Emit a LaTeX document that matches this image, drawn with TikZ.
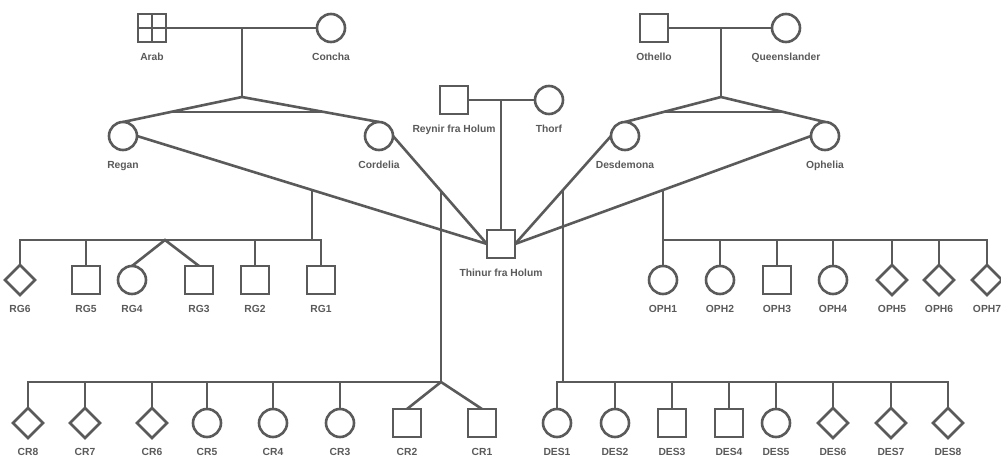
\documentclass[tikz,border=0pt]{standalone}
\usepackage{fontspec}
\setmainfont{Liberation Sans}
\usetikzlibrary{shapes.geometric,calc,backgrounds}
\definecolor{ln}{HTML}{5A5A5A}
\definecolor{tx}{HTML}{5A5A5A}
\tikzset{
  base/.style={draw=ln, line width=2.6pt, inner sep=0pt, outer sep=0pt, fill=white},
  male/.style={base, rectangle, minimum size=28pt},
  female/.style={base, circle, minimum size=28pt},
  unk/.style={base, diamond, aspect=1, minimum size=30pt},
  lbl/.style={font=\bfseries\fontsize{10.3}{12}\selectfont, text=tx, inner sep=0pt, text height=7.4pt, text depth=0pt, anchor=center},
  conn/.style={draw=ln, line width=2.6pt, line cap=butt, line join=miter},
}
\newcommand{\pp}[5]{%
  \node[#2] (#1) at (#3,#4) {};
  \node[lbl] (#1-t) at (#3,#4+29) {#5};}
\begin{document}
\begin{tikzpicture}[x=1pt,y=-1pt]
\useasboundingbox (0,0) rectangle (1001,457);
\coordinate (apexA) at (242,97);
\coordinate (apexO) at (721,97);
\coordinate (bar1) at (0,240);
\coordinate (bar2) at (0,382);
\coordinate (rgtw) at (165,240);
\coordinate (crtw) at (441,382);
% people
\pp{Arab}{male}{152}{28}{Arab}
\pp{Concha}{female}{331}{28}{Concha}
\pp{Othello}{male}{654}{28}{Othello}
\pp{Queens}{female}{786}{28}{Queenslander}
\pp{Reynir}{male}{454}{100}{Reynir fra Holum}
\pp{Thorf}{female}{549}{100}{Thorf}
\pp{Regan}{female}{123}{136}{Regan}
\pp{Cordelia}{female}{379}{136}{Cordelia}
\pp{Desdemona}{female}{625}{136}{Desdemona}
\pp{Ophelia}{female}{825}{136}{Ophelia}
\pp{Thinur}{male}{501}{244}{Thinur fra Holum}
% RG
\pp{RG6}{unk}{20}{280}{RG6}
\pp{RG5}{male}{86}{280}{RG5}
\pp{RG4}{female}{132}{280}{RG4}
\pp{RG3}{male}{199}{280}{RG3}
\pp{RG2}{male}{255}{280}{RG2}
\pp{RG1}{male}{321}{280}{RG1}
% OPH
\pp{OPH1}{female}{663}{280}{OPH1}
\pp{OPH2}{female}{720}{280}{OPH2}
\pp{OPH3}{male}{777}{280}{OPH3}
\pp{OPH4}{female}{833}{280}{OPH4}
\pp{OPH5}{unk}{892}{280}{OPH5}
\pp{OPH6}{unk}{939}{280}{OPH6}
\pp{OPH7}{unk}{987}{280}{OPH7}
% CR
\pp{CR8}{unk}{28}{423}{CR8}
\pp{CR7}{unk}{85}{423}{CR7}
\pp{CR6}{unk}{152}{423}{CR6}
\pp{CR5}{female}{207}{423}{CR5}
\pp{CR4}{female}{273}{423}{CR4}
\pp{CR3}{female}{340}{423}{CR3}
\pp{CR2}{male}{407}{423}{CR2}
\pp{CR1}{male}{482}{423}{CR1}
% DES
\pp{DES1}{female}{557}{423}{DES1}
\pp{DES2}{female}{615}{423}{DES2}
\pp{DES3}{male}{672}{423}{DES3}
\pp{DES4}{male}{729}{423}{DES4}
\pp{DES5}{female}{776}{423}{DES5}
\pp{DES6}{unk}{833}{423}{DES6}
\pp{DES7}{unk}{891}{423}{DES7}
\pp{DES8}{unk}{948}{423}{DES8}
% cross in Arab
\draw[conn] (Arab.north) -- (Arab.south) (Arab.west) -- (Arab.east);
\begin{scope}[on background layer]
% marriages
\draw[conn] (Arab.east) -- (Concha.west);
\draw[conn] (Othello.east) -- (Queens.west);
\draw[conn] (Reynir.east) -- (Thorf.west);
\draw[conn] (apexA |- Arab) -- (apexA);
\draw[conn] (apexO |- Othello) -- (apexO);
\draw[conn] (Thinur |- Reynir) -- (Thinur.north);
% twin triangles
\draw[conn] (Regan.north) -- (apexA) -- (Cordelia.north);
\draw[conn] ($(apexA)!0.6!(Regan.north)$) -- ($(apexA)!0.6!(Cordelia.north)$);
\draw[conn] (Desdemona.north) -- (apexO) -- (Ophelia.north);
\draw[conn] ($(apexO)!0.6!(Desdemona.north)$) -- ($(apexO)!0.6!(Ophelia.north)$);
% matings
\draw[conn] (Regan.east) -- (Thinur.west);
\draw[conn] (Cordelia.east) -- (Thinur.west);
\draw[conn] (Desdemona.west) -- (Thinur.east);
\draw[conn] (Ophelia.west) -- (Thinur.east);
\coordinate (mRG) at ($(Regan.east)!0.5!(Thinur.west)$);
\coordinate (mCR) at ($(Cordelia.east)!0.511!(Thinur.west)$);
\coordinate (mDES) at ($(Desdemona.west)!0.5!(Thinur.east)$);
\coordinate (mOPH) at ($(Ophelia.west)!0.5!(Thinur.east)$);
% RG sibship
\draw[conn] (mRG) -- (mRG |- bar1);
\draw[conn] (RG6.north) -- (RG6 |- bar1) -- (RG1 |- bar1) -- (RG1.north);
\draw[conn] (RG5 |- bar1) -- (RG5.north);
\draw[conn] (RG2 |- bar1) -- (RG2.north);
\draw[conn] (RG4.north) -- (rgtw) -- (RG3.north);
% OPH sibship
\draw[conn] (mOPH) -- (mOPH |- bar1);
\draw[conn] (OPH1.north) -- (OPH1 |- bar1) -- (OPH7 |- bar1) -- (OPH7.north);
\foreach \c in {OPH2,OPH3,OPH4,OPH5,OPH6} \draw[conn] (\c |- bar1) -- (\c.north);
% CR sibship
\draw[conn] (mCR) -- (mCR |- crtw) -- (crtw);
\draw[conn] (CR8.north) -- (CR8 |- bar2) -- (crtw);
\foreach \c in {CR7,CR6,CR5,CR4,CR3} \draw[conn] (\c |- bar2) -- (\c.north);
\draw[conn] (CR2.north) -- (crtw) -- (CR1.north);
% DES sibship
\draw[conn] (mDES) -- (mDES |- bar2);
\draw[conn] (DES1.north) -- (DES1 |- bar2) -- (DES8 |- bar2) -- (DES8.north);
\foreach \c in {DES2,DES3,DES4,DES5,DES6,DES7} \draw[conn] (\c |- bar2) -- (\c.north);
\end{scope}
\end{tikzpicture}
\end{document}
